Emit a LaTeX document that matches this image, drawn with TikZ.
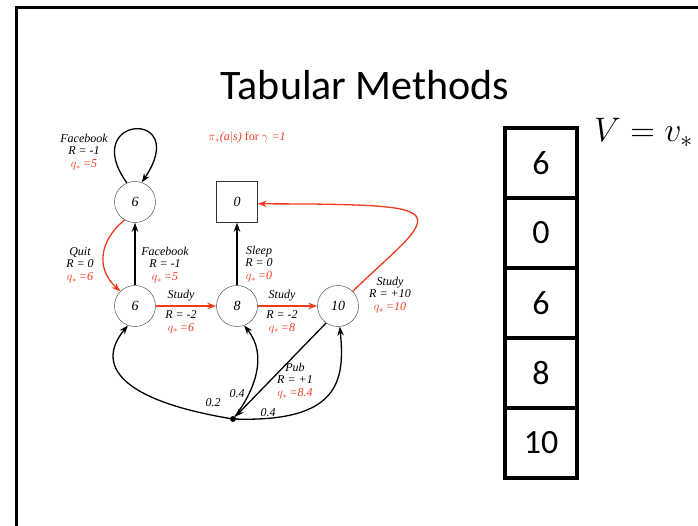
\RequirePackage{fix-cm}
\documentclass[tikz,border=0pt]{standalone}
\usepackage{fontspec}
\setmainfont{Carlito}
\newfontfamily\tms{Liberation Serif}
\usetikzlibrary{arrows.meta}
\definecolor{qred}{RGB}{240,58,30}
\newcommand{\qv}[1]{\textcolor{qred}{$q_*$\,=#1}}

\begin{document}
\begin{tikzpicture}[x=1pt, y=-1pt, >={Stealth[length=9pt,width=6.5pt]},
	state/.style={draw=black!80, circle, minimum size=41pt, inner sep=0pt, font=\tms\itshape\fontsize{14}{14}\selectfont},
	lbl/.style={align=center, inner sep=0pt, font=\tms\itshape\fontsize{12}{12.5}\selectfont},
	cell/.style={draw, line width=4pt, minimum width=72pt, minimum height=70pt, inner sep=0pt, font=\fontsize{34}{34}\selectfont}]
				\useasboundingbox (0,0) rectangle (698,526);
				\draw[line width=3pt] (16,530) -- (16,8) -- (702,8);
				\node (T)at(365, 85) {\fontsize{42}{42}\selectfont Tabular Methods};
				\node[lbl, text=qred] (pi)at(247, 138) {$\pi_*$(a$|$s) \textup{for} $\gamma$ =1};
				\node[state] (F)at(135, 202) {6};
				\node[state] (C1)at(135, 306) {6};
				\node[state] (S8)at(237, 306) {8};
				\node[state] (S10)at(338, 306) {10};
				\node[draw=black!80, rectangle, minimum size=41pt, inner sep=0pt, font=\tms\itshape\fontsize{14}{14}\selectfont] (Z)at(237, 202) {0};
				\node[fill, circle, inner sep=0pt, minimum size=6pt] (P)at(233, 419) {};
				\draw[->, line width=1.3pt] (F.113) .. controls (78,115) and (192,108) .. (F.71);
				\draw[->, line width=1.3pt, qred] (F.240) .. controls (100,240) and (95,268) .. (C1.135);
				\draw[->, line width=1.3pt] (C1) -- (F);
				\draw[->, line width=1.3pt] (S8) -- (Z);
				\draw[->, line width=1.3pt, qred] (C1) -- (S8);
				\draw[->, line width=1.3pt, qred] (S8) -- (S10);
				\draw[->, line width=1.3pt, qred] (S10.45) .. controls (395,250) and (435,222) .. (410,212) .. controls (395,204) and (330,204) .. (Z.355);
				\draw[->, line width=1.3pt] (S10.235) -- (P);
				\draw[->, line width=1.3pt] (P) .. controls (120,400) and (95,365) .. (C1.250);
				\draw[->, line width=1.3pt] (P) .. controls (255,390) and (268,355) .. (S8.290);
				\draw[->, line width=1.3pt] (P) .. controls (340,422) and (345,380) .. (S10.275);
				\node[lbl] (lFbA)at(84, 152) {Facebook\\R = -1\\\qv{5}};
				\node[lbl] (lQuit)at(80, 265) {Quit\\R = 0\\\qv{6}};
				\node[lbl] (lFbB)at(165, 265) {Facebook\\R = -1\\\qv{5}};
				\node[lbl] (lSleep)at(259, 264) {Sleep\\R = 0\\\qv{0}};
				\node[lbl] (lStA)at(181, 296) {Study};
				\node[lbl] (lStAr)at(181, 322) {R = -2\\\qv{6}};
				\node[lbl] (lStB)at(282, 296) {Study};
				\node[lbl] (lStBr)at(282, 322) {R = -2\\\qv{8}};
				\node[lbl] (lStC)at(390, 295) {Study\\R = +10\\\qv{10}};
				\node[lbl] (lPub)at(295, 381) {Pub\\R = +1\\\qv{8.4}};
				\node[lbl] (p1)at(213, 403) {0.2};
				\node[lbl] (p2)at(237, 394) {0.4};
				\node[lbl] (p3)at(268, 413) {0.4};
				\node[cell] (v1)at(541, 163) {6};
				\node[cell] (v2)at(541, 233) {0};
				\node[cell] (v3)at(541, 303) {6};
				\node[cell] (v4)at(541, 373) {8};
				\node[cell] (v5)at(541, 443) {10};
				\node[anchor=base west, inner sep=0pt] (V)at(594, 142) {\fontsize{34}{34}\selectfont $V = v_*$};
			\end{tikzpicture}
\end{document}
